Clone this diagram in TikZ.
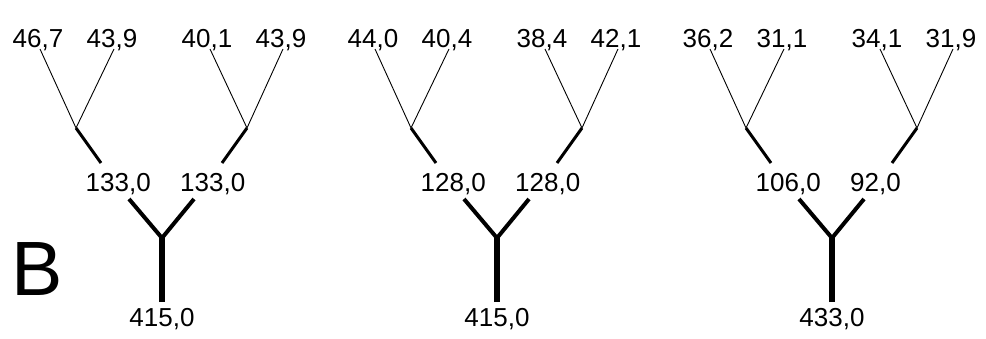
\documentclass[tikz,border=0pt]{standalone}
\usepackage{fontspec}
\setmainfont{Liberation Sans}
\begin{document}
\begin{tikzpicture}[x=1pt, y=-1pt,
        % Styles for the four kinds of branch and for the numbers
        twig/.style={line width=0.9pt},
        limb/.style={line width=3pt},
        bough/.style={line width=4pt},
        trunk/.style={line width=5.5pt},
        num/.style={font=\fontsize{26}{30}\selectfont, inner sep=0pt, anchor=base}]

        \useasboundingbox (0,0) rectangle (986,338);

        % 1. The panel letter
        \node[font=\fontsize{77}{80}\selectfont, inner sep=0pt, anchor=base west] (panel) at (11,295) {B};

        % 2. One tree per sample: fork x, four leaf values, two middle values, root value
        \foreach \t/\x/\la/\lb/\lc/\ld/\ma/\mb/\rt in {
            1/162/{46,7}/{43,9}/{40,1}/{43,9}/{133,0}/{133,0}/{415,0},
            2/497/{44,0}/{40,4}/{38,4}/{42,1}/{128,0}/{128,0}/{415,0},
            3/832/{36,2}/{31,1}/{34,1}/{31,9}/{106,0}/{92,0}/{433,0}}{
        \begin{scope}[xshift=\x pt]
            % points of the tree
            \coordinate (fork-\t) at (0,238);
            \coordinate (foot-\t) at (0,302);
            \coordinate (bl-\t) at (-33,199);
            \coordinate (br-\t) at (32,199);
            \coordinate (ul-\t) at (-61,163);
            \coordinate (ur-\t) at (60,163);
            \coordinate (kl-\t) at (-86,128);
            \coordinate (kr-\t) at (85,128);
            \coordinate (ta-\t) at (-122,49);
            \coordinate (tb-\t) at (-48,49);
            \coordinate (tc-\t) at (48,49);
            \coordinate (td-\t) at (121,49);

            % values
            \node[num] (root-\t) at (0,326) {\rt};
            \node[num, anchor=base east] (mida-\t) at (-11,191) {\ma};
            \node[num, anchor=base west] (midb-\t) at (18,191) {\mb};
            \node[num] (leafa-\t) at (-124,47) {\la};
            \node[num] (leafb-\t) at (-50,47) {\lb};
            \node[num] (leafc-\t) at (45,47) {\lc};
            \node[num] (leafd-\t) at (119,47) {\ld};

            % branches
            \draw[trunk] (foot-\t) -- (fork-\t);
            \draw[bough] (bl-\t) -- (fork-\t) -- (br-\t);
            \draw[limb] (ul-\t) -- (kl-\t);
            \draw[limb] (ur-\t) -- (kr-\t);
            \draw[twig] (ta-\t) -- (kl-\t) -- (tb-\t);
            \draw[twig] (tc-\t) -- (kr-\t) -- (td-\t);
        \end{scope}
        }

\end{tikzpicture}
\end{document}
